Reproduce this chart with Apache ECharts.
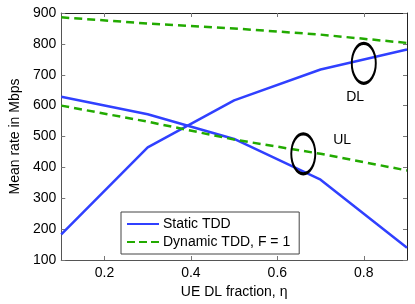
<!DOCTYPE html>
<html>
<head>
<meta charset="utf-8">
<script src="https://cdn.jsdelivr.net/npm/echarts@6/dist/echarts.min.js"></script>
<style>html,body{margin:0;padding:0;background:#fff}#c{width:415px;height:304px}</style>
</head>
<body>
<div id="c"></div>
<script>
const eta = [0.1, 0.3, 0.5, 0.7, 0.9];
const staticDL = [183, 465, 617, 717, 782];
const staticUL = [629, 572, 492, 360, 140];
const dynamicDL = [886, 866, 850, 830, 803];
const dynamicUL = [600, 548, 490, 444, 390];
const xTicks = [0.2, 0.4, 0.6, 0.8];
const ellipses = [[0.80, 737], [0.66, 444]];
const annotations = [[0.78, 626, 'DL'], [0.75, 487, 'UL']];

const pairs = (xs, ys) => xs.map((x, i) => [x, ys[i]]);
const FONT = 'Liberation Sans, Arial, sans-serif';
const blue = '#3040ff', green = '#22aa00';

const chart = echarts.init(document.getElementById('c'), null, {renderer: 'canvas'});
const baseX = {
  type: 'value', min: 0.1, max: 0.9,
  axisLine: {show: true, onZero: false, lineStyle: {color: '#555', width: 1}},
  axisTick: {show: true, inside: true, length: 4, customValues: xTicks, lineStyle: {color: '#777'}},
  axisLabel: {show: true, customValues: xTicks, color: '#000', fontSize: 14, fontFamily: FONT, margin: 6,
    formatter: v => v.toFixed(1)},
  splitLine: {show: false}
};
const baseY = {
  type: 'value', min: 100, max: 900, interval: 100,
  axisLine: {show: true, onZero: false, lineStyle: {color: '#555', width: 1}},
  axisTick: {show: true, inside: true, length: 4, lineStyle: {color: '#777'}},
  axisLabel: {show: true, color: '#000', fontSize: 14, fontFamily: FONT, margin: 5},
  splitLine: {show: false}
};
chart.setOption({
  animation: false,
  grid: {left: 54, right: 8, top: 13, bottom: 39, containLabel: false},
  xAxis: [
    Object.assign({}, baseX, {position: 'bottom', name: 'UE DL fraction, η', nameLocation: 'middle', nameGap: 25,
      nameTextStyle: {color: '#000', fontSize: 14, fontFamily: FONT}}),
    Object.assign({}, baseX, {position: 'top', axisLabel: {show: false, customValues: xTicks},
      axisLine: {show: true, onZero: false, lineStyle: {color: '#222', width: 1}}})
  ],
  yAxis: [
    Object.assign({}, baseY, {position: 'left', name: 'Mean rate in Mbps', nameLocation: 'middle', nameGap: 34,
      nameTextStyle: {color: '#000', fontSize: 14, fontFamily: FONT}}),
    Object.assign({}, baseY, {position: 'right', axisLabel: {show: false},
      axisLine: {show: true, onZero: false, lineStyle: {color: '#222', width: 1}}})
  ],
  legend: {
    show: true, left: 121, top: 212, width: 182, orient: 'vertical',
    padding: [5, 9, 5, 6], itemGap: 4, itemWidth: 32, itemHeight: 10,
    backgroundColor: '#fff', borderColor: '#444', borderWidth: 1,
    textStyle: {color: '#000', fontSize: 14, fontFamily: FONT, padding: [0, 0, 0, -1]},
    data: [
      {name: 'Static TDD', icon: 'path://M0,4 L32,4 L32,6 L0,6 Z', itemStyle: {color: blue}},
      {name: 'Dynamic TDD, F = 1',
        icon: 'path://M0,4 L8,4 L8,6 L0,6 Z M12,4 L20,4 L20,6 L12,6 Z M24,4 L32,4 L32,6 L24,6 Z',
        itemStyle: {color: green}}
    ]
  },
  series: [
    {name: 'Static TDD', type: 'line', data: pairs(eta, staticDL), showSymbol: false, symbol: 'none',
      lineStyle: {color: blue, width: 2.5}, itemStyle: {color: blue}},
    {name: 'Static TDD', type: 'line', data: pairs(eta, staticUL), showSymbol: false, symbol: 'none',
      lineStyle: {color: blue, width: 2.5}, itemStyle: {color: blue}},
    {name: 'Dynamic TDD, F = 1', type: 'line', data: pairs(eta, dynamicDL), showSymbol: false, symbol: 'none',
      lineStyle: {color: green, width: 2.5, type: [8, 5]}, itemStyle: {color: green}},
    {name: 'Dynamic TDD, F = 1', type: 'line', data: pairs(eta, dynamicUL), showSymbol: false, symbol: 'none',
      lineStyle: {color: green, width: 2.5, type: [8, 5]}, itemStyle: {color: green}},
    {name: 'ellipses', type: 'scatter', data: ellipses, z: 5,
      symbol: 'path://M0,50 A50,50 0 1,1 100,50 A50,50 0 1,1 0,50 Z', symbolSize: [24, 40],
      itemStyle: {color: 'rgba(0,0,0,0)', borderColor: '#000', borderWidth: 2.5, opacity: 1}},
    {name: 'notes', type: 'scatter', data: annotations.map(a => ({value: [a[0], a[1]], label: {formatter: a[2]}})),
      symbolSize: 0, z: 6, itemStyle: {opacity: 1},
      label: {show: true, position: 'inside', color: '#000', fontSize: 14, fontFamily: FONT}}
  ]
});
</script>
</body>
</html>
